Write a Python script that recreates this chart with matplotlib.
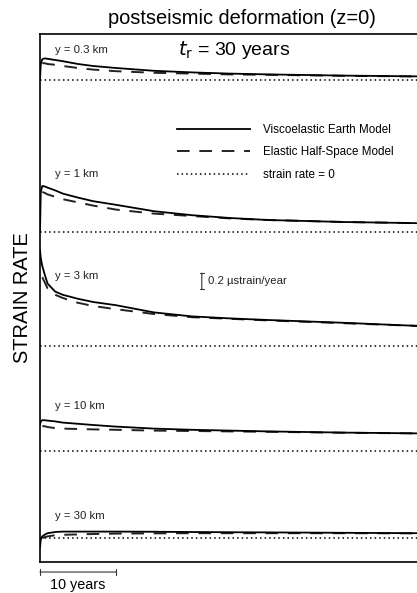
import matplotlib
matplotlib.use("Agg")
import matplotlib.pyplot as plt
from matplotlib.lines import Line2D
import matplotlib.transforms as mtransforms

plt.rcParams["font.family"] = ["Liberation Sans", "DejaVu Sans"]

# ── Data (strain rate in microstrain/year vs time in years) ──────────
DEPTHS = ["y = 0.3 km", "y = 1 km", "y = 3 km", "y = 10 km", "y = 30 km"]
OFFSETS = [6.025, 4.125, 2.70, 1.3875, 0.30]      # vertical stacking of traces
LABEL_RISE = [0.375, 0.725, 0.88, 0.56, 0.275]

T_VISCO = [0, 0.1, 0.3, 0.6, 1, 2, 3, 5, 7, 10, 15, 20, 25, 30, 40, 50, 55]
VISCO = [
    [0.0, 0.20, 0.26, 0.27, 0.265, 0.25, 0.235, 0.20, 0.175, 0.15, 0.115, 0.095, 0.08, 0.07, 0.055, 0.045, 0.042],
    [0.0, 0.50, 0.575, 0.57, 0.555, 0.52, 0.48, 0.43, 0.385, 0.34, 0.26, 0.21, 0.175, 0.15, 0.125, 0.11, 0.105],
    [1.20, 1.10, 1.00, 0.90, 0.78, 0.68, 0.64, 0.59, 0.55, 0.51, 0.42, 0.37, 0.345, 0.325, 0.29, 0.25, 0.24],
    [0.33, 0.37, 0.385, 0.385, 0.38, 0.37, 0.355, 0.34, 0.325, 0.305, 0.28, 0.265, 0.255, 0.245, 0.23, 0.22, 0.215],
    [-0.12, -0.02, 0.02, 0.04, 0.06, 0.075, 0.08, 0.08, 0.08, 0.08, 0.078, 0.075, 0.072, 0.07, 0.065, 0.06, 0.058],
]

T_ELASTIC = [0.3, 0.6, 1, 2, 3, 5, 7, 10, 15, 20, 25, 30, 40, 50, 55]
ELASTIC = [
    [0.21, 0.21, 0.20, 0.19, 0.175, 0.15, 0.13, 0.11, 0.09, 0.08, 0.07, 0.065, 0.052, 0.044, 0.041],
    [0.50, 0.49, 0.47, 0.44, 0.41, 0.37, 0.33, 0.28, 0.23, 0.20, 0.17, 0.15, 0.125, 0.11, 0.105],
    [0.86, 0.80, 0.72, 0.64, 0.60, 0.54, 0.50, 0.46, 0.40, 0.36, 0.34, 0.32, 0.285, 0.25, 0.24],
    [0.31, 0.31, 0.30, 0.285, 0.28, 0.275, 0.27, 0.265, 0.255, 0.25, 0.245, 0.24, 0.228, 0.22, 0.215],
    [0.0, 0.01, 0.02, 0.035, 0.04, 0.045, 0.05, 0.055, 0.058, 0.06, 0.06, 0.06, 0.06, 0.058, 0.057],
]

SCALE_YEARS = 10
SCALE_STRAIN = 0.2

# ── Figure ───────────────────────────────────────────────────────────
fig = plt.figure(figsize=(4.17, 5.93), dpi=100)
ax = fig.add_axes([40 / 417, 31 / 593, 395 / 417, 528 / 593])
ax.set_xlim(0, 52)
ax.set_ylim(0, 6.6)
ax.set_xticks([]); ax.set_yticks([])
for s in ax.spines.values():
    s.set_linewidth(1.2)

for name, off, rise, v, e in zip(DEPTHS, OFFSETS, LABEL_RISE, VISCO, ELASTIC):
    ax.plot(T_ELASTIC, [off + x for x in e], color="#222222", lw=1.4,
            dashes=(6.5, 5))
    ax.plot(T_VISCO, [off + x for x in v], color="black", lw=1.3)
    ax.axhline(off, color="black", lw=1.1, ls=(0, (1, 2)))
    ax.text(2.0, off + rise, name, fontsize=8.2, va="center", ha="left",
            color="#222222")

ax.text(18.2, 6.4, r"$t_{\rm r}$ = 30 years", fontsize=14, va="center",
        ha="left", math_fontfamily="dejavusans")

handles = [Line2D([], [], color="black", lw=1.3),
           Line2D([], [], color="#222222", lw=1.4, dashes=(6.5, 5)),
           Line2D([], [], color="black", lw=1.1, ls=(0, (1, 2)))]
ax.legend(handles, ["Viscoelastic Earth Model", "Elastic Half-Space Model",
                    "strain rate = 0"],
          loc="upper left", bbox_to_anchor=(0.32, 0.85), frameon=False,
          fontsize=8.4, handlelength=6.3, handletextpad=1.1, labelspacing=0.9)

# vertical scale bar
ax.annotate("", xy=(21.3, 3.41 + SCALE_STRAIN), xytext=(21.3, 3.41),
            arrowprops=dict(arrowstyle="|-|, widthA=0.15, widthB=0.15",
                            lw=0.8, shrinkA=0, shrinkB=0, color="#333333"))
ax.text(22.1, 3.41 + SCALE_STRAIN / 2, f"{SCALE_STRAIN} \u00b5strain/year",
        fontsize=8.2, va="center", ha="left", color="#222222")

# horizontal time scale bar below the axes
trans = mtransforms.blended_transform_factory(ax.transData, ax.transAxes)
ax.annotate("", xy=(SCALE_YEARS, -0.019), xytext=(0, -0.019),
            xycoords=trans, textcoords=trans, annotation_clip=False,
            arrowprops=dict(arrowstyle="|-|, widthA=0.2, widthB=0.2",
                            lw=0.8, shrinkA=0, shrinkB=0, color="#333333"))
ax.text(SCALE_YEARS / 2, -0.044, f"{SCALE_YEARS} years", transform=trans,
        fontsize=10.4, ha="center", va="center")

ax.set_ylabel("STRAIN RATE", fontsize=14.4)
ax.yaxis.set_label_coords(-0.02, 0.5)
fig.text(242 / 417, 1 - 18 / 593, "postseismic deformation (z=0)",
         fontsize=14.4, ha="center", va="center")

fig.savefig("out.png", dpi=100)
